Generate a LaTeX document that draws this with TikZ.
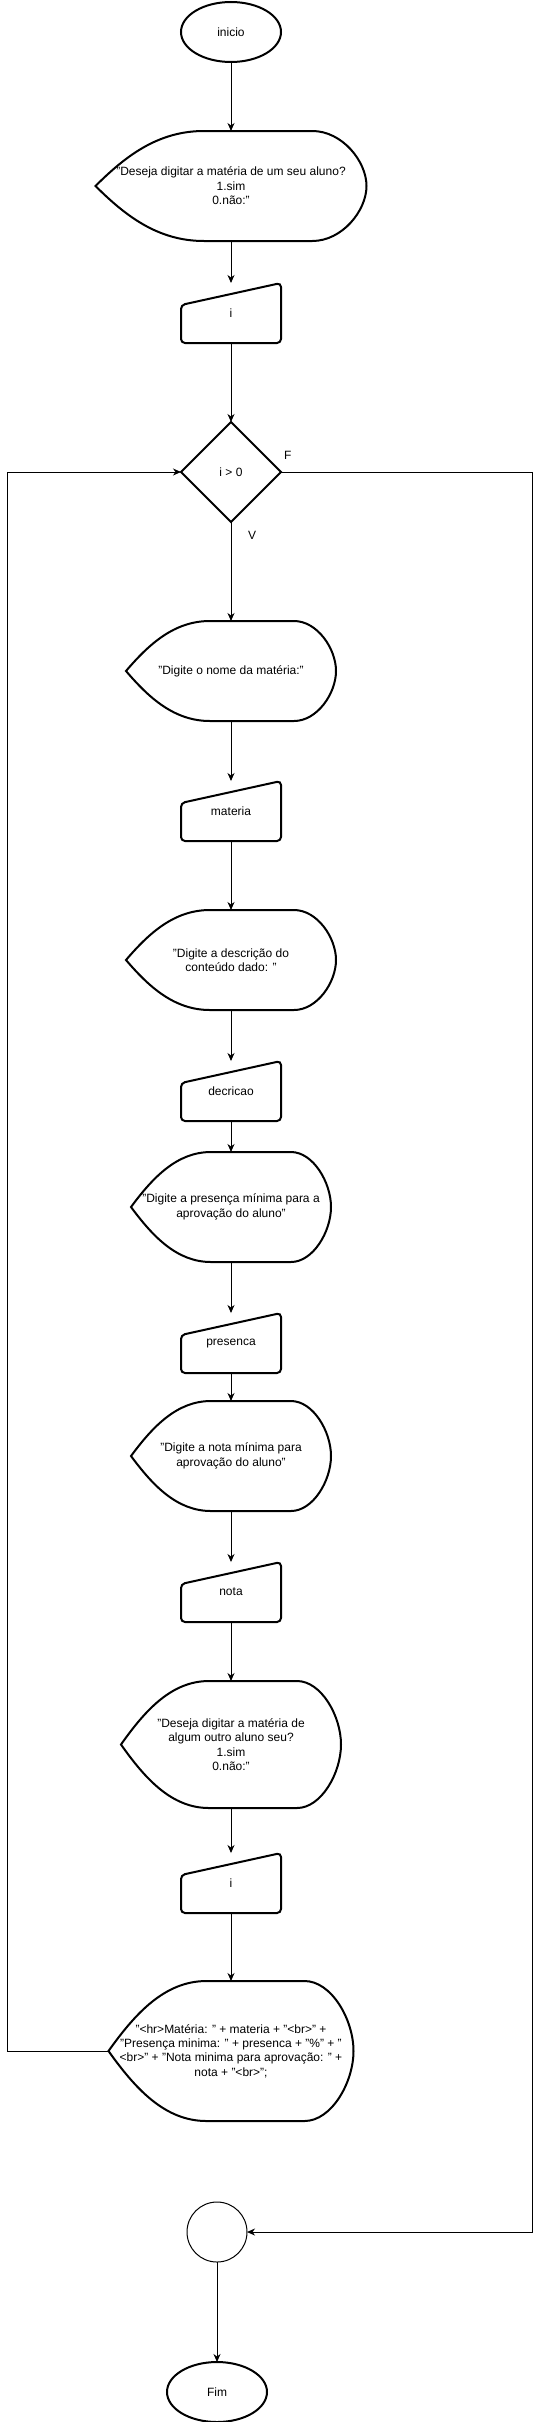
\documentclass[tikz,border=0pt]{standalone}
\usepackage{fontspec}
\setmainfont{Liberation Sans}
\usepackage{tikz}
\usetikzlibrary{positioning, shapes.geometric, calc, arrows.meta}
\tikzset{
node distance=40pt,
Text/.style={
	font=\fontsize{12pt}{14.4pt}\selectfont,
	align=center,
	outer sep=0pt
},
Outline/.style={
	draw=black,
	line width=2pt
},
Terminal/.style={
	Text, Outline, ellipse,
	minimum width=100pt,
	minimum height=60pt
},
Decision/.style={
	Text, Outline, diamond,
	minimum width=100pt,
	minimum height=100pt,
	inner sep=0pt
},
Junction/.style={
	Text, circle,
	draw=black,
	line width=1pt,
	minimum size=60pt
},
InputBox/.style={
	Text,
	minimum width=100pt,
	minimum height=60pt,
	append after command={\pgfextra{
		\draw[Outline, rounded corners=4pt] (\tikzlastnode.south west)
			-- ([yshift=-22pt]\tikzlastnode.north west)
			-- (\tikzlastnode.north east)
			-- (\tikzlastnode.south east) -- cycle;
	}}
},
Display/.style 2 args={
	Text,
	minimum width=#1,
	minimum height=#2,
	inner sep=0pt,
	append after command={\pgfextra{
		\draw[Outline] (\tikzlastnode.west)
			.. controls ($(\tikzlastnode.west) + ({0.11*#1}, {0.27*#2})$)
			and ($(\tikzlastnode.north west) + ({0.23*#1}, 0)$)
			.. ($(\tikzlastnode.north west) + ({0.4*#1}, 0)$)
			-- ($(\tikzlastnode.north west)!0.8!(\tikzlastnode.north east)$)
			.. controls ($(\tikzlastnode.north west)!0.91!(\tikzlastnode.north east)$)
			and ($(\tikzlastnode.north east)!0.55!(\tikzlastnode.east)$)
			.. (\tikzlastnode.east)
			.. controls ($(\tikzlastnode.south east)!0.55!(\tikzlastnode.east)$)
			and ($(\tikzlastnode.south west)!0.91!(\tikzlastnode.south east)$)
			.. ($(\tikzlastnode.south west)!0.8!(\tikzlastnode.south east)$)
			-- ($(\tikzlastnode.south west) + ({0.4*#1}, 0)$)
			.. controls ($(\tikzlastnode.south west) + ({0.23*#1}, 0)$)
			and ($(\tikzlastnode.west) + ({0.11*#1}, {-0.27*#2})$)
			.. cycle;
	}}
},
Edge/.style={
	draw=black,
	line width=1pt,
	-{Stealth[length=8pt, width=7pt, inset=2.5pt]}
},
EdgeLabel/.style={
	Text,
	inner sep=0pt
}
}

\begin{document}
\begin{tikzpicture}[x=1pt, y=1pt]
	\useasboundingbox (0,0) rectangle (541,-2422);

	\node[Terminal] (Inicio) at (231,-32) {inicio};
	\node[Display={271pt}{110pt}, below=69pt of Inicio] (AskMore) {"Deseja digitar a matéria de um seu aluno?\\1.sim\\0.não:"};
	\node[InputBox, below=42pt of AskMore] (ReadI) {i};
	\node[Decision, below=79pt of ReadI] (Cond) {i > 0};

	\node[Display={210pt}{100pt}, below=99pt of Cond] (AskMateria) {"Digite o nome da matéria:"};
	\node[InputBox, below=60pt of AskMateria] (ReadMateria) {materia};
	\node[Display={210pt}{100pt}, below=69pt of ReadMateria] (AskDescr) {"Digite a descrição do\\conteúdo dado: "};
	\node[InputBox, below=51pt of AskDescr] (ReadDescr) {decricao};
	\node[Display={200pt}{110pt}, below=31pt of ReadDescr] (AskPres) {"Digite a presença mínima para a\\aprovação do aluno"};
	\node[InputBox, below=51pt of AskPres] (ReadPres) {presenca};
	\node[Display={200pt}{110pt}, below=28pt of ReadPres] (AskNota) {"Digite a nota mínima para\\aprovação do aluno"};
	\node[InputBox, below=51pt of AskNota] (ReadNota) {nota};
	\node[Display={220pt}{127pt}, below=59pt of ReadNota] (AskAgain) {"Deseja digitar a matéria de\\algum outro aluno seu?\\1.sim\\0.não:"};
	\node[InputBox, below=45pt of AskAgain] (ReadAgain) {i};
	\node[Display={245pt}{140pt}, below=68pt of ReadAgain] (Show) {"<hr>Matéria: " + materia + "<br>" +\\"Presença minima: " + presenca + "\%" + "\\<br>" + "Nota minima para aprovação: " +\\nota + "<br>";};

	\node[Junction, below=81pt of Show, xshift=-14pt] (Join) {};
	\node[Terminal, below=100pt of Join] (Fim) {Fim};

	\node[EdgeLabel, anchor=south west] (LabelF) at ([xshift=3pt, yshift=13pt]Cond.east) {F};
	\node[EdgeLabel, anchor=north west] (LabelV) at ([xshift=17pt, yshift=-9pt]Cond.south) {V};

	\draw[Edge] (Inicio) -- (AskMore);
	\draw[Edge] (AskMore) -- (ReadI);
	\draw[Edge] (ReadI) -- (Cond);
	\draw[Edge] (Cond) -- (AskMateria);
	\draw[Edge] (AskMateria) -- (ReadMateria);
	\draw[Edge] (ReadMateria) -- (AskDescr);
	\draw[Edge] (AskDescr) -- (ReadDescr);
	\draw[Edge] (ReadDescr) -- (AskPres);
	\draw[Edge] (AskPres) -- (ReadPres);
	\draw[Edge] (ReadPres) -- (AskNota);
	\draw[Edge] (AskNota) -- (ReadNota);
	\draw[Edge] (ReadNota) -- (AskAgain);
	\draw[Edge] (AskAgain) -- (ReadAgain);
	\draw[Edge] (ReadAgain) -- (Show);
	\draw[Edge] (Show.west) -- ++(-101pt,0) |- (Cond.west);
	\draw[Edge] (Cond.east) -- ++(251pt,0) |- (Join.east);
	\draw[Edge] (Join) -- (Fim);
\end{tikzpicture}
\end{document}
